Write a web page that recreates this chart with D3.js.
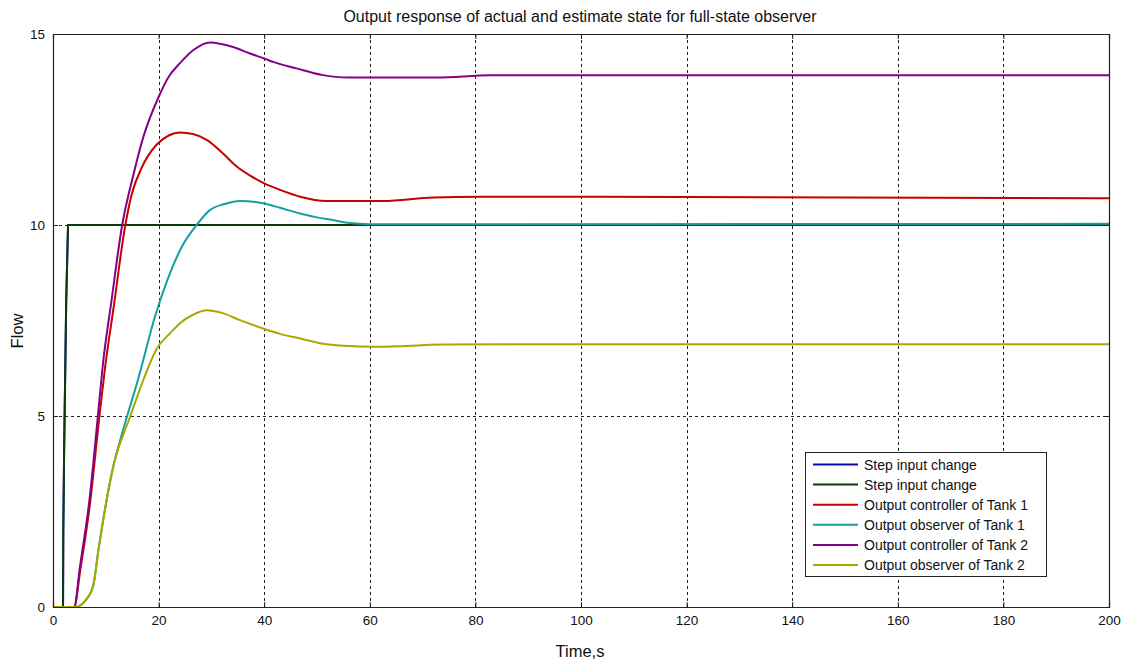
<!DOCTYPE html>
<html>
<head>
<meta charset="utf-8">
<script src="https://cdn.jsdelivr.net/npm/d3@7"></script>
<style>
  html, body { margin: 0; padding: 0; background: #fff; }
  svg { display: block; font-family: "Liberation Sans", Arial, sans-serif; }
</style>
</head>
<body>
<svg id="chart" width="1128" height="662"></svg>
<script>
// Time axis and flow axis ticks
const xTicks = [0, 20, 40, 60, 80, 100, 120, 140, 160, 180, 200];
const yTicks = [0, 5, 10, 15];

// Step input (both reference signals share the same step)
const stepT = [0, 1.9, 1.95, 2.1, 2.3, 2.5, 2.85, 200];
const stepV = [0, 0, 2, 4, 6, 8, 10, 10];

// Output controller of Tank 1
const ctrl1T = [0, 4, 5.2, 7.0, 8.8, 9.8, 11.5, 13.7, 14.9, 16.8, 19.6, 22, 24, 26.5, 29.1, 32, 34.8, 37.5, 40, 43, 46.8, 51.8, 62.5, 72, 81, 103, 200];
const ctrl1V = [0, 0, 1.0, 2.7, 5.0, 6.2, 7.86, 10, 10.8, 11.5, 12.1, 12.35, 12.42, 12.38, 12.23, 11.9, 11.53, 11.28, 11.09, 10.92, 10.74, 10.63, 10.63, 10.72, 10.74, 10.74, 10.7];

// Output observer of Tank 1
const obs1T = [0, 4.2, 6, 7.6, 8.6, 11.4, 13, 16.2, 19.3, 21.5, 24.4, 27.2, 29.7, 32.5, 35.4, 39.8, 43, 46.8, 50, 53, 56.2, 60, 200];
const obs1V = [0, 0, 0.15, 0.55, 1.49, 3.67, 4.5, 6.0, 7.6, 8.5, 9.43, 10.0, 10.39, 10.55, 10.63, 10.57, 10.45, 10.3, 10.2, 10.13, 10.05, 10.02, 10.03];

// Output controller of Tank 2
const ctrl2T = [0, 4, 5.1, 6.9, 8.5, 9.4, 11.1, 13.1, 15.2, 17.1, 20, 22, 24, 26.6, 29.7, 34.1, 37.3, 40, 41.7, 46.1, 50.9, 55.9, 72.7, 82.8, 200];
const ctrl2V = [0, 0, 1.05, 2.8, 5.0, 6.29, 8.04, 10, 11.3, 12.3, 13.35, 13.9, 14.23, 14.58, 14.78, 14.66, 14.49, 14.36, 14.27, 14.1, 13.93, 13.86, 13.86, 13.92, 13.92];

// Output observer of Tank 2
const obs2T = [0, 4.2, 6, 7.6, 8.6, 11.4, 14.6, 17.1, 19.6, 22.2, 24.05, 26.5, 29.1, 32, 35.4, 39.8, 43, 46.8, 50.9, 54.9, 61.3, 73.9, 89, 200];
const obs2V = [0, 0, 0.15, 0.55, 1.49, 3.67, 4.98, 5.94, 6.75, 7.17, 7.43, 7.65, 7.77, 7.7, 7.51, 7.29, 7.15, 7.03, 6.9, 6.84, 6.81, 6.87, 6.88, 6.88];

const seriesNames = [
  "Step input change",
  "Step input change",
  "Output controller of Tank 1",
  "Output observer of Tank 1",
  "Output controller of Tank 2",
  "Output observer of Tank 2"
];
const seriesColors = ["#0a0aa8", "#0b3d0b", "#c80000", "#12a0a0", "#850088", "#a8a800"];
const seriesT = [stepT, stepT, ctrl1T, obs1T, ctrl2T, obs2T];
const seriesV = [stepV, stepV, ctrl1V, obs1V, ctrl2V, obs2V];

const svg = d3.select("#chart");
const W = 1128, H = 662;
const margin = { left: 53, top: 34, right: W - 1109, bottom: H - 607 };

const x = d3.scaleLinear().domain([0, 200]).range([margin.left, W - margin.right]);
const y = d3.scaleLinear().domain([0, 15]).range([H - margin.bottom, margin.top]);

// Dashed grid
const grid = svg.append("g");
grid.selectAll("line.gx").data(xTicks.slice(1, -1)).join("line")
  .attr("x1", d => Math.round(x(d)) + 0.5).attr("x2", d => Math.round(x(d)) + 0.5)
  .attr("y1", y(15)).attr("y2", y(0))
  .attr("stroke", "#222").attr("stroke-width", 1).attr("stroke-dasharray", "3,3");
grid.selectAll("line.gy").data(yTicks.slice(1, -1)).join("line")
  .attr("y1", d => Math.round(y(d)) + 0.5).attr("y2", d => Math.round(y(d)) + 0.5)
  .attr("x1", x(0)).attr("x2", x(200))
  .attr("stroke", "#222").attr("stroke-width", 1).attr("stroke-dasharray", "3,3");

// Curves
const smoothLine = d3.line().x(d => x(d[0])).y(d => y(d[1])).curve(d3.curveMonotoneX);
const straightLine = d3.line().x(d => x(d[0])).y(d => y(d[1]));
const lines = svg.append("g");
seriesT.forEach((ts, i) => {
  const pts = ts.map((t, k) => [t, seriesV[i][k]]);
  const gen = i < 2 ? straightLine : smoothLine;
  lines.append("path")
    .attr("d", gen(pts))
    .attr("fill", "none")
    .attr("stroke", seriesColors[i])
    .attr("stroke-width", 2)
    .attr("stroke-linejoin", "round");
});

// Axes with inward ticks, box around plot
const axB = svg.append("g").attr("transform", `translate(0,${y(0)})`)
  .call(d3.axisBottom(x).tickValues(xTicks).tickSize(-5).tickPadding(8).tickFormat(d3.format("d")));
const axT = svg.append("g").attr("transform", `translate(0,${y(15)})`)
  .call(d3.axisTop(x).tickValues(xTicks).tickSize(-5).tickFormat(""));
const axL = svg.append("g").attr("transform", `translate(${x(0)},0)`)
  .call(d3.axisLeft(y).tickValues(yTicks).tickSize(-5).tickPadding(8).tickFormat(d3.format("d")));
const axR = svg.append("g").attr("transform", `translate(${x(200)},0)`)
  .call(d3.axisRight(y).tickValues(yTicks).tickSize(-5).tickFormat(""));
[axB, axT, axL, axR].forEach(a => {
  a.select(".domain").attr("stroke", "#222").attr("stroke-width", 1.2);
  a.selectAll(".tick line").attr("stroke", "#222");
  a.selectAll("text").attr("font-size", 13.5).attr("fill", "#111")
    .attr("font-family", "'Liberation Sans', Arial, sans-serif");
});

// Titles
svg.append("text").attr("x", 580).attr("y", 22).attr("text-anchor", "middle")
  .attr("font-size", 16).attr("fill", "#111")
  .text("Output response of actual and estimate state for full-state observer");
svg.append("text").attr("x", 580).attr("y", 657).attr("text-anchor", "middle")
  .attr("font-size", 16.5).attr("fill", "#111").text("Time,s");
svg.append("text").attr("transform", "translate(23,331) rotate(-90)").attr("text-anchor", "middle")
  .attr("font-size", 16.5).attr("fill", "#111").text("Flow");

// Legend
const lg = svg.append("g");
lg.append("rect").attr("x", 805.5).attr("y", 452.5).attr("width", 241).attr("height", 124)
  .attr("fill", "#fff").attr("stroke", "#222").attr("stroke-width", 1);
seriesNames.forEach((name, i) => {
  const yy = 464.5 + i * 20.1;
  lg.append("line").attr("x1", 813).attr("x2", 858).attr("y1", yy).attr("y2", yy)
    .attr("stroke", seriesColors[i]).attr("stroke-width", 2);
  lg.append("text").attr("x", 864).attr("y", yy + 5).attr("font-size", 14)
    .attr("fill", "#111").text(name);
});
</script>
</body>
</html>
